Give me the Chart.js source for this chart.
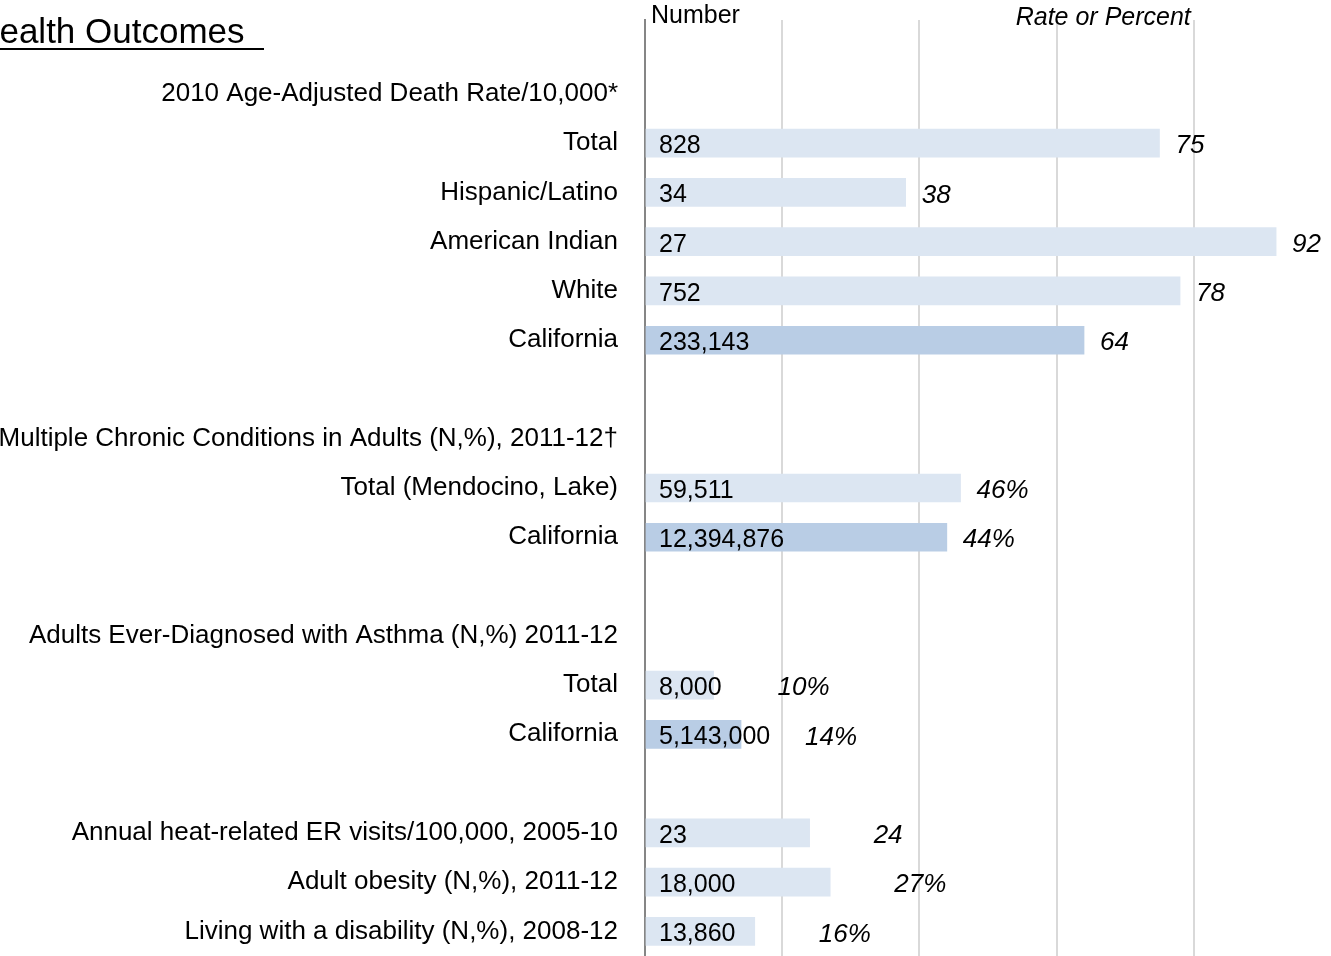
<!DOCTYPE html>
<html>
<head>
<meta charset="utf-8">
<script src="https://cdn.jsdelivr.net/npm/chart.js@4"></script>
<style>
html, body { margin: 0; padding: 0; background: #fff; overflow: hidden; }
#wrap { position: relative; width: 1331px; height: 956px; }
#title {
    position: absolute; top: 11px; right: 1067px;
    font: 35px "Liberation Sans", Arial, sans-serif; line-height: 40px;
    white-space: pre; text-decoration: underline;
    text-decoration-thickness: 2px; text-underline-offset: 5px;
}
</style>
</head>
<body>
<div id="wrap">
    <canvas id="chart" width="1331" height="956"></canvas>
    <div id="title">Health Outcomes  </div>
</div>
<script>
// rows top to bottom; '' rows are spacers, section headings have no bar
const categories = [
    '',
    '2010 Age-Adjusted Death Rate/10,000*',
    'Total', 'Hispanic/Latino', 'American Indian', 'White', 'California',
    '',
    'Multiple Chronic Conditions in Adults (N,%), 2011-12\u2020',
    'Total (Mendocino, Lake)', 'California',
    '',
    'Adults Ever-Diagnosed with Asthma (N,%) 2011-12',
    'Total', 'California',
    '',
    'Annual heat-related ER visits/100,000, 2005-10',
    'Adult obesity (N,%), 2011-12',
    'Living with a disability (N,%), 2008-12'
];
const counts = [
    null, null,
    '828', '34', '27', '752', '233,143',
    null, null,
    '59,511', '12,394,876',
    null, null,
    '8,000', '5,143,000',
    null,
    '23', '18,000', '13,860'
];
const rates = [
    null, null,
    75, 38, 92, 78, 64,
    null, null,
    46, 44,
    null, null,
    10, 14,
    null,
    24, 27, 16
];
const rateLabels = [
    null, null,
    '75', '38', '92', '78', '64',
    null, null,
    '46%', '44%',
    null, null,
    '10%', '14%',
    null,
    '24', '27%', '16%'
];

const FONT = '"Liberation Sans", Arial, sans-serif';
Chart.defaults.font.family = FONT;
Chart.defaults.color = '#000';

const barText = {
    id: 'barText',
    afterDatasetsDraw(chart) {
        const ctx = chart.ctx;
        const area = chart.chartArea;
        const meta = chart.getDatasetMeta(0);
        const asthmaRow = categories.indexOf('Adults Ever-Diagnosed with Asthma (N,%) 2011-12');
        ctx.save();
        ctx.fillStyle = '#000';
        ctx.textBaseline = 'middle';
        meta.data.forEach((bar, i) => {
            if (counts[i] == null) return;
            ctx.textAlign = 'left';
            ctx.font = '25px ' + FONT;
            ctx.fillText(counts[i], area.left + 14, bar.y + 3);
            // the short bars in the lower sections keep their rate further out
            const gap = i > asthmaRow ? 64 : 16;
            ctx.font = 'italic 26px ' + FONT;
            ctx.fillText(rateLabels[i], bar.x + gap, bar.y + 3);
        });

        // column headers
        const x = chart.scales.x;
        ctx.font = '25px ' + FONT;
        ctx.textAlign = 'left';
        ctx.fillText('Number', area.left + 6, 16);
        ctx.font = 'italic 25px ' + FONT;
        ctx.textAlign = 'right';
        ctx.fillText('Rate or Percent', x.getPixelForValue(80) - 3, 18);
        ctx.restore();
    }
};

const ctx = document.getElementById('chart').getContext('2d');
new Chart(ctx, {
    type: 'bar',
    data: {
        labels: categories,
        datasets: [{
            data: rates,
            backgroundColor: categories.map(c => c === 'California' ? '#b9cde5' : '#dce6f2'),
            barThickness: 28
        }]
    },
    options: {
        indexAxis: 'y',
        responsive: false,
        animation: false,
        layout: { padding: { top: 20, right: 0, bottom: 0, left: 0 } },
        plugins: { legend: { display: false }, tooltip: { enabled: false } },
        scales: {
            x: {
                min: 0, max: 100,
                ticks: { display: false, stepSize: 20 },
                grid: {
                    drawTicks: false,
                    lineWidth: 2,
                    color: c => c.tick.value === 0 ? '#868686' : (c.tick.value === 100 ? 'rgba(0,0,0,0)' : '#d9d9d9')
                },
                border: { display: false },
                afterFit: s => { s.height = 0; s.paddingLeft = 0; s.paddingRight = 0; }
            },
            y: {
                grid: { display: false, drawTicks: false },
                border: { display: true, color: '#868686', width: 2 },
                ticks: { font: { size: 26 }, color: '#000', padding: 27, autoSkip: false },
                afterFit: s => { s.width = 645; s.paddingTop = 0; s.paddingBottom = 0; }
            }
        }
    },
    plugins: [barText]
});
</script>
</body>
</html>
